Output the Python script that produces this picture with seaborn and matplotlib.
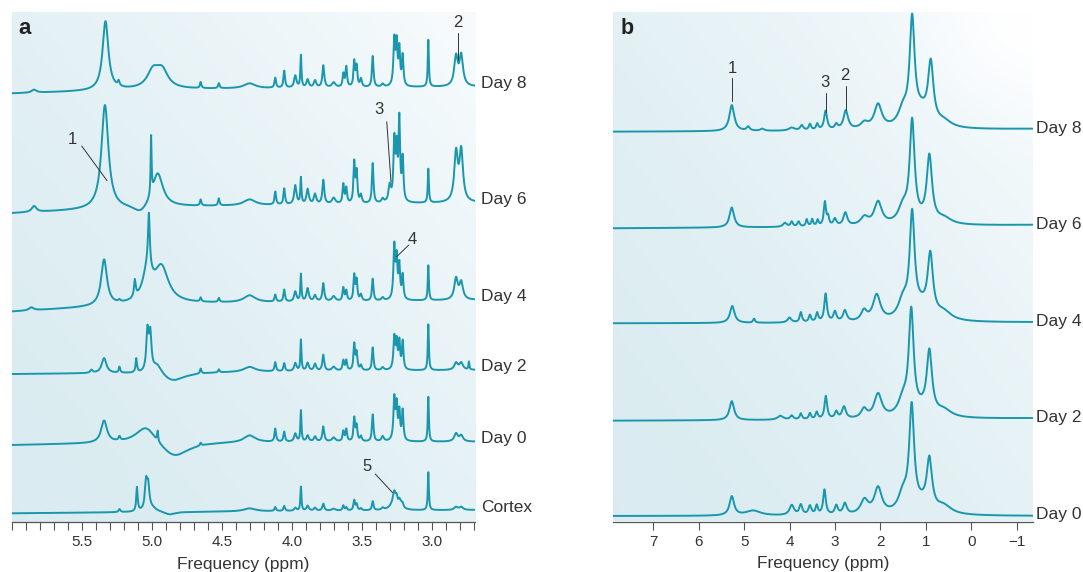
import numpy as np
import pandas as pd
import matplotlib
matplotlib.use("Agg")
import matplotlib.pyplot as plt
import seaborn as sns
from matplotlib.transforms import blended_transform_factory
from matplotlib.ticker import FixedLocator

# ---------------- data: panel a (high-resolution spectra, 6.0-2.69 ppm) ----------------
LABELS_A = ["Day 8", "Day 6", "Day 4", "Day 2", "Day 0", "Cortex"]

# shared metabolite resonances (ppm) and line widths (FWHM, ppm)
CLUSTER_PPM = [4.30, 4.117, 4.053, 3.974, 3.934, 3.886, 3.833, 3.774, 3.70, 3.631, 3.61,
               3.553, 3.536, 3.505, 3.421, 3.35, 3.267, 3.25, 3.231, 3.207, 3.024, 2.826, 2.789]
CLUSTER_FWHM = [0.10, 0.013, 0.013, 0.02, 0.009, 0.02, 0.02, 0.016, 0.03, 0.013, 0.013,
                0.013, 0.013, 0.015, 0.013, 0.02, 0.015, 0.013, 0.013, 0.013, 0.009, 0.03, 0.03]

H_DAY8_A = [5, 10, 17, 12, 32, 8, 7, 22, 5, 13, 20, 25, 20, 8, 31, 3, 46, 40, 36, 30, 47, 29, 30]
H_DAY6_A = [6, 13, 16, 19, 26, 15, 10, 24, 6, 19, 15, 40, 30, 8, 40, 4, 60, 48, 80, 42, 34, 48, 50]
H_DAY4_A = [7, 7, 12, 10, 27, 13, 6, 18, 5, 13, 10, 25, 20, 6, 22, 3, 53, 38, 33, 24, 35, 21, 17]
H_DAY2_A = [5, 9, 8, 8, 31, 8, 7, 16, 4, 10, 10, 26, 17, 5, 23, 3, 32, 26, 27, 28, 46, 7, 7]
H_DAY0_A = [7, 13, 10, 8, 31, 6, 5, 15, 4, 10, 12, 23, 15, 5, 27, 5, 42, 33, 28, 30, 45, 8, 6]
H_CTX_A = [3, 4, 5, 3, 24, 5, 3, 7, 2, 5, 3, 10, 6, 2, 9, 2, 6, 5, 4, 3, 38, 3, 3]

# additional peaks (ppm, height, FWHM)
EXTRA_DAY8_A = [(5.84, 3, 0.04), (5.33, 69, 0.05), (5.236, 5, 0.015), (4.99, 17, 0.1),
                (4.925, 17, 0.1), (4.65, 6, 0.012), (4.52, 5, 0.012)]
EXTRA_DAY6_A = [(5.84, 6, 0.04), (5.334, 104, 0.06), (5.08, -8, 0.12), (5.004, 58, 0.008),
                (4.957, 34, 0.09), (4.65, 6, 0.012), (4.52, 7, 0.012), (3.30, 16, 0.02)]
EXTRA_DAY4_A = [(5.86, 3, 0.04), (5.34, 46, 0.05), (5.23, 2, 0.015), (5.12, 17, 0.015),
                (5.02, 52, 0.015), (5.03, 30, 0.08), (4.93, 35, 0.12), (4.65, 4, 0.012),
                (4.52, 4, 0.012)]
EXTRA_DAY2_A = [(5.43, 3, 0.02), (5.34, 15, 0.04), (5.23, 6, 0.012), (5.11, 14, 0.012),
                (5.03, 40, 0.02), (5.01, 36, 0.02), (4.96, 10, 0.08), (4.85, -9, 0.2),
                (4.65, 5, 0.012), (4.52, 3, 0.012), (2.734, 8, 0.008)]
EXTRA_DAY0_A = [(5.34, 22, 0.05), (5.23, 4, 0.015), (5.04, 18, 0.18), (4.957, 10, 0.008),
                (4.84, -16, 0.25), (4.65, 3, 0.012)]
EXTRA_CTX_A = [(5.23, 3, 0.015), (5.105, 24, 0.012), (5.04, 27, 0.02), (5.025, 22, 0.02),
               (5.0, 4, 0.08), (4.87, -3, 0.1), (3.265, 13, 0.05), (3.22, 5, 0.03)]

# ---------------- data: panel b (lower-resolution spectra, 7.88 to -1.35 ppm) ----------------
LABELS_B = ["Day 8", "Day 6", "Day 4", "Day 2", "Day 0"]
PEAKS_DAY8_B = [(5.27, 26, 0.13), (4.91, 4, 0.08), (4.6, 2, 0.1), (3.95, 3, 0.15), (3.73, 5, 0.08),
                (3.55, 6, 0.06), (3.39, 6, 0.06), (3.205, 19, 0.08), (2.97, 5, 0.08), (2.76, 19, 0.12),
                (2.35, 6, 0.2), (2.05, 24, 0.2), (1.50, 16, 0.25), (1.30, 102, 0.13), (1.1, 15, 0.4),
                (0.89, 59, 0.14), (0.6, 6, 0.4)]
PEAKS_DAY6_B = [(5.27, 20, 0.12), (4.1, 4, 0.1), (3.95, 5, 0.06), (3.8, 5, 0.06), (3.62, 7, 0.05),
                (3.5, 7, 0.05), (3.38, 6, 0.05), (3.22, 24, 0.06), (3.15, 8, 0.05), (3.0, 7, 0.08),
                (2.77, 13, 0.1), (2.35, 8, 0.2), (2.05, 23, 0.2), (1.50, 16, 0.25), (1.30, 100, 0.13),
                (1.1, 2, 0.4), (0.92, 66, 0.14), (0.6, 6, 0.4)]
PEAKS_DAY4_B = [(5.26, 17, 0.12), (4.78, 4, 0.05), (4.0, 5, 0.1), (3.75, 10, 0.06), (3.55, 7, 0.06),
                (3.39, 9, 0.06), (3.205, 28, 0.07), (3.0, 10, 0.08), (2.78, 11, 0.1), (2.36, 10, 0.15),
                (2.08, 26, 0.2), (1.50, 18, 0.25), (1.30, 100, 0.13), (1.1, 12, 0.4), (0.90, 60, 0.14),
                (0.6, 8, 0.4)]
PEAKS_DAY2_B = [(5.27, 19, 0.12), (4.2, 4, 0.15), (3.95, 4, 0.08), (3.75, 6, 0.06), (3.55, 6, 0.06),
                (3.40, 7, 0.06), (3.20, 23, 0.07), (2.97, 7, 0.08), (2.80, 12, 0.1), (2.36, 9, 0.15),
                (2.05, 24, 0.2), (1.50, 16, 0.25), (1.32, 102, 0.13), (1.1, 6, 0.4), (0.92, 62, 0.14),
                (0.6, 7, 0.4)]
PEAKS_DAY0_B = [(5.27, 19, 0.12), (4.8, 5, 0.4), (3.95, 10, 0.12), (3.75, 10, 0.08), (3.55, 9, 0.08),
                (3.4, 9, 0.06), (3.23, 25, 0.07), (2.97, 9, 0.08), (2.78, 11, 0.1), (2.35, 14, 0.2),
                (2.05, 26, 0.2), (1.50, 18, 0.25), (1.31, 102, 0.13), (1.1, 8, 0.4), (0.92, 50, 0.14),
                (0.6, 8, 0.4)]

TICKS_A = [5.5, 5.0, 4.5, 4.0, 3.5, 3.0]
TICKS_B = [7, 6, 5, 4, 3, 2, 1, 0, -1]
TICKLABELS_B = ["7", "6", "5", "4", "3", "2", "1", "0", "\u22121"]

# ---------------- layout (pixels of the 1083x572 canvas) ----------------
W, H = 1083, 572
XLIM_A = (6.0, 2.69)
XLIM_B = (7.88, -1.35)
# baseline anchors: ppm points and baseline pixel rows for each trace
BASE_PPM_A = [6.0, 5.0, 2.69]
BASE_PX_A = [[93.5, 89.5, 86.7], [213.3, 207, 202.7], [311.7, 304, 300],
             [374, 372.5, 370], [445, 442, 441.7], [513.3, 512, 510]]
BASE_PPM_B = [7.88, 3.0, -1.35]
BASE_PX_B = [[131.7, 131, 129], [228.3, 227, 225], [323.3, 323, 322.3],
             [420.7, 420, 418.3], [516, 516, 516]]
A_BOTTOM, B_BOTTOM = 522.0, 521.5

LINE = "#1a97ad"
TXT = "#333333"


def lorentz(x, x0, h, fwhm):
    g = fwhm / 2.0
    return h * g * g / ((x - x0) ** 2 + g * g)


def trace(grid, peaks, base_ppm, base_px, bottom):
    order = np.argsort(base_ppm)
    base = np.interp(grid, np.array(base_ppm)[order], np.array(base_px)[order])
    sig = np.zeros_like(grid)
    for p, h, w in peaks:
        sig += lorentz(grid, p, h, w)
    return (bottom - base) + sig


grid_a = np.linspace(XLIM_A[1], XLIM_A[0], 5000)
grid_b = np.linspace(XLIM_B[1], XLIM_B[0], 3000)

heights_a = [H_DAY8_A, H_DAY6_A, H_DAY4_A, H_DAY2_A, H_DAY0_A, H_CTX_A]
extras_a = [EXTRA_DAY8_A, EXTRA_DAY6_A, EXTRA_DAY4_A, EXTRA_DAY2_A, EXTRA_DAY0_A, EXTRA_CTX_A]
rows = []
for lab, hs, ex, bpx in zip(LABELS_A, heights_a, extras_a, BASE_PX_A):
    peaks = list(zip(CLUSTER_PPM, hs, CLUSTER_FWHM)) + ex
    y = trace(grid_a, peaks, BASE_PPM_A, bpx, A_BOTTOM)
    rows.append(pd.DataFrame({"ppm": grid_a, "signal": y, "trace": lab}))
df_a = pd.concat(rows, ignore_index=True)

peaks_b = [PEAKS_DAY8_B, PEAKS_DAY6_B, PEAKS_DAY4_B, PEAKS_DAY2_B, PEAKS_DAY0_B]
rows = []
for lab, pk, bpx in zip(LABELS_B, peaks_b, BASE_PX_B):
    y = trace(grid_b, pk, BASE_PPM_B, bpx, B_BOTTOM)
    rows.append(pd.DataFrame({"ppm": grid_b, "signal": y, "trace": lab}))
df_b = pd.concat(rows, ignore_index=True)

# ---------------- figure ----------------
sns.set_theme(style="white")
plt.rcParams["font.family"] = ["Liberation Sans", "DejaVu Sans"]

fig = plt.figure(figsize=(W / 100, H / 100), dpi=100)
fig.patch.set_facecolor("white")

ax_a = fig.add_axes([11.7 / W, (H - A_BOTTOM) / H, (475.1 - 11.7) / W, (A_BOTTOM - 12) / H])
ax_b = fig.add_axes([613.3 / W, (H - B_BOTTOM) / H, (1032.5 - 613.3) / W, (B_BOTTOM - 12) / H])


def gradient(ax, spot=False):
    n = 256
    u, v = np.meshgrid(np.linspace(0, 1, n), np.linspace(0, 1, n))
    t = np.clip(0.55 * u + 0.5 * v, 0, 1) ** 1.6
    c0 = np.array([0.855, 0.925, 0.945])
    c1 = np.array([0.965, 0.982, 0.99])
    img = c0 + (c1 - c0) * t[..., None]
    if spot:
        r = np.sqrt((1 - u) ** 2 * 1.0 + (1 - v) ** 2 * 1.6)
        s = np.exp(-(r / 0.22) ** 2)[..., None]
        img = img * (1 - s) + np.array([1.0, 1.0, 1.0]) * s
    ax.imshow(img, extent=(0, 1, 0, 1), transform=ax.transAxes, origin="lower",
              aspect="auto", zorder=0, interpolation="bilinear")


for ax, df, xlim, bottom in [(ax_a, df_a, XLIM_A, A_BOTTOM), (ax_b, df_b, XLIM_B, B_BOTTOM)]:
    gradient(ax, spot=(ax is ax_b))
    sns.lineplot(data=df, x="ppm", y="signal", units="trace", estimator=None, sort=False,
                 color=LINE, linewidth=1.4, ax=ax, zorder=3)
    ax.set_xlim(*xlim)
    ax.set_ylim(0, bottom - 12)
    ax.set_ylabel("")
    ax.set_yticks([])
    for s in ["top", "left", "right"]:
        ax.spines[s].set_visible(False)
    ax.spines["bottom"].set_color("#555555")
    ax.spines["bottom"].set_linewidth(0.9)
    ax.set_xlabel("Frequency (ppm)", fontsize=12.5, color=TXT, labelpad=5.5)
    ax.tick_params(axis="x", which="both", direction="out", length=5.5, width=0.8,
                   color="#555555", labelsize=11, labelcolor=TXT, pad=4, bottom=True)
    ax.set_facecolor("none")

ax_a.xaxis.set_major_locator(FixedLocator(TICKS_A))
ax_a.set_xticklabels([f"{t:.1f}" for t in TICKS_A])
ax_a.xaxis.set_minor_locator(FixedLocator(np.round(np.arange(2.7, 6.01, 0.1), 2)))
ax_b.xaxis.set_major_locator(FixedLocator(TICKS_B))
ax_b.set_xticklabels(TICKLABELS_B)

# trace labels
tr_a = blended_transform_factory(ax_a.transAxes, ax_a.transData)
for lab, bpx in zip(LABELS_A, BASE_PX_A):
    ax_a.text(1.013, A_BOTTOM - bpx[-1] + 3, lab, transform=tr_a, ha="left", va="center",
              fontsize=12.5, color=TXT, clip_on=False)
tr_b = blended_transform_factory(ax_b.transAxes, ax_b.transData)
for lab, bpx in zip(LABELS_B, BASE_PX_B):
    ax_b.text(1.008, B_BOTTOM - bpx[-1] + 1, lab, transform=tr_b, ha="left", va="center",
              fontsize=12.5, color=TXT, clip_on=False)

# panel letters
fig.text(18 / W, 1 - 29 / H, "a", fontsize=16, fontweight="bold", color="#222222", va="center")
fig.text(621 / W, 1 - 28 / H, "b", fontsize=15.5, fontweight="bold", color="#222222", va="center")

# peak annotations (text position, line start, line end) in data coordinates
ANN_A = [("2", (2.814, 499.3), (2.81, 488.7), (2.81, 462)),
         ("1", (5.564, 382), (5.50, 376), (5.319, 341.3)),
         ("3", (3.379, 412), (3.321, 400.3), (3.291, 340.3)),
         ("4", (3.136, 282.7), (3.164, 277), (3.25, 265.3)),
         ("5", (3.462, 55.3), (3.403, 48), (3.279, 29.3))]
ANN_B = [("1", (5.261, 453.2), (5.261, 443.2), (5.261, 420.5)),
         ("3", (3.22, 438.8), (3.204, 428.2), (3.204, 409.8)),
         ("2", (2.78, 446.5), (2.764, 435.5), (2.764, 411.5))]
for ax, anns in [(ax_a, ANN_A), (ax_b, ANN_B)]:
    for t, tp, p0, p1 in anns:
        ax.text(tp[0], tp[1], t, fontsize=12, color=TXT, ha="center", va="center", zorder=5)
        ax.plot([p0[0], p1[0]], [p0[1], p1[1]], color="#333333", lw=0.7, zorder=5)

fig.savefig("out.png", dpi=100)
